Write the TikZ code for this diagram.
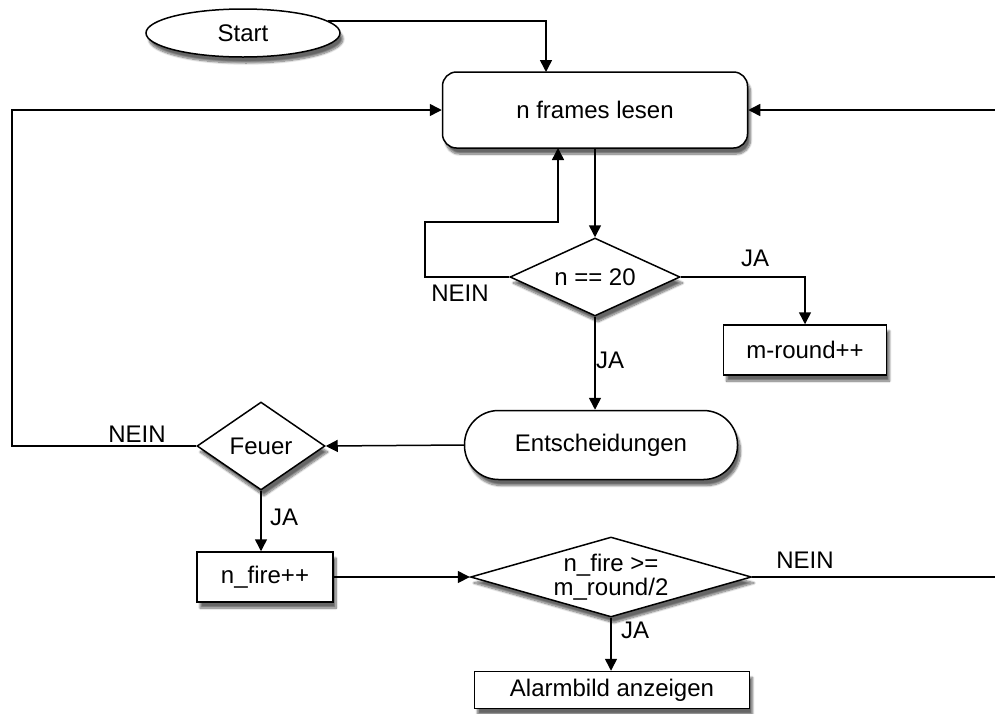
\documentclass[tikz,border=0pt]{standalone}
\usepackage{fontspec}
\setmainfont{Liberation Sans}
\usetikzlibrary{shapes.geometric,arrows.meta,shadows.blur,calc}
\begin{document}
\begin{tikzpicture}[x=1pt,y=-1pt,
  font=\fontsize{24}{27}\selectfont,
  every node/.style={inner sep=0pt},
  shade/.style={blur shadow={shadow xshift=3pt,shadow yshift=-6pt,shadow blur steps=10,shadow opacity=60}},
  base/.style={draw,line width=1.5pt,fill=white,shade,align=center},
  boxnode/.style={base,rectangle},
  roundbox/.style={base,rectangle,rounded corners=14pt},
  pill/.style={base,rectangle,rounded corners=34pt},
  decision/.style={base,diamond},
  startnode/.style={base,ellipse},
  arr/.style={line width=1.5pt,-{Triangle[length=12pt,width=12pt]}},
  ln/.style={line width=1.5pt},
  lbl/.style={inner sep=0pt}
]
\useasboundingbox (0,0) rectangle (995,713);

% nodes
\node[startnode,minimum width=194pt,minimum height=48pt] (start) at (243,33) {Start};
\node[roundbox,minimum width=305pt,minimum height=76pt] (frames) at (595,110) {n frames lesen};
\node[decision,minimum width=170pt,minimum height=78pt,aspect=2.3] (t20) at (595,277) {n == 20};
\node[boxnode,minimum width=163pt,minimum height=50pt] (mround) at (805,350) {m-round++};
\node[pill,minimum width=273pt,minimum height=69pt] (entsch) at (601,445) {Entscheidungen};
\node[decision,minimum width=128pt,minimum height=88pt,aspect=1.5] (feuer) at (261,446) {Feuer};
\node[boxnode,minimum width=136pt,minimum height=50pt] (nfire) at (265,577) {n\_fire++};
\node[decision,minimum width=275pt,minimum height=80pt,aspect=3.6] (tfire) at (611,577) {n\_fire >=\\[-3pt]m\_round/2};
\node[boxnode,minimum width=275pt,minimum height=37pt] (alarm) at (612,690) {Alarmbild anzeigen};

% helper coordinates
\coordinate (startin) at (546,72);
\coordinate (leftx) at (12,0);
\coordinate (rightin) at (995,110);
\coordinate (loopx) at (425,222);
\coordinate (loopup) at (558,148);
\coordinate (nfireout) at (995,577);

% connectors
\draw[arr] (start.8) -| (startin);
\draw[arr] (feuer.west) -- (feuer.west -| leftx) |- (frames.west);
\draw[arr] (rightin) -- (frames.east);
\draw[arr] (frames.south) -- (t20.north);
\draw[arr] (t20.west) -| (loopx) -| (loopup);
\draw[arr] (t20.east) -| (mround.north);
\draw[arr] (t20.south) -- (t20.south |- entsch.north);
\draw[arr] (entsch.west) -- (feuer.east);
\draw[arr] (feuer.south) -- (feuer.south |- nfire.north);
\draw[arr] (nfire.east) -- (tfire.west);
\draw[ln] (tfire.east) -- (nfireout);
\draw[arr] (tfire.south) -- (tfire.south |- alarm.north);

% labels
\node[lbl] (l1) at (460,293) {NEIN};
\node[lbl] (l2) at (755,258) {JA};
\node[lbl] (l3) at (610,360) {JA};
\node[lbl] (l4) at (137,434) {NEIN};
\node[lbl] (l5) at (284,517) {JA};
\node[lbl] (l6) at (805,560) {NEIN};
\node[lbl] (l7) at (635,630) {JA};
\end{tikzpicture}
\end{document}
